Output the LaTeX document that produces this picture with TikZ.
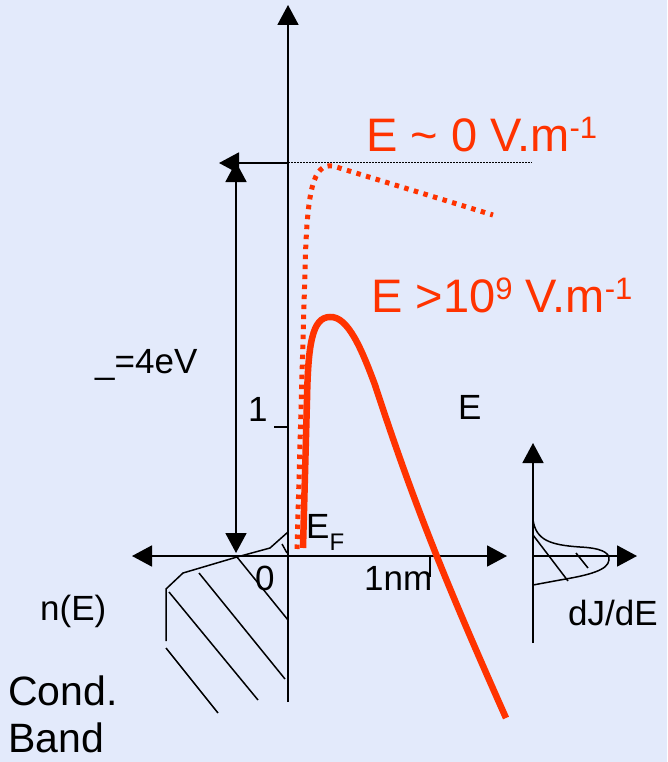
\documentclass[tikz,border=0pt]{standalone}
\usepackage{fontspec}
\setmainfont{Liberation Sans}
\usetikzlibrary{arrows.meta}
\definecolor{slideblue}{HTML}{E3EAFB}
\definecolor{fieldred}{HTML}{FF3300}
\newcommand{\upidx}[1]{\raisebox{13pt}{\fontsize{31}{31}\selectfont #1}}

\begin{document}
\begin{tikzpicture}[x=1pt,y=-1pt,
  tip/.style={-{Triangle[length=20pt,width=21pt]}},
  arrowaxis/.style={line width=1.8pt,tip},
  twoway/.style={line width=1.8pt,{Triangle[length=20pt,width=21pt]}-{Triangle[length=20pt,width=21pt]}},
  dosline/.style={line width=1.5pt},
  lbl/.style={inner sep=0pt,anchor=base west,font=\fontsize{35}{40}\selectfont},
  redlbl/.style={lbl,text=fieldred,font=\fontsize{47}{52}\selectfont},
  biglbl/.style={lbl,font=\fontsize{41}{48}\selectfont},
  field/.style={fieldred,line width=6.5pt},
  nofield/.style={fieldred,line width=5pt,dash pattern=on 4.5pt off 5.5pt}]
\fill[slideblue] (0,0) rectangle (667,762);
\useasboundingbox (0,0) rectangle (667,762);
% axes
\coordinate (O) at (288,556);
\coordinate (ytop) at (288,5);
\coordinate (ybot) at (288,702);
\coordinate (xleft) at (132,556);
\coordinate (xright) at (507,556);
\draw[arrowaxis] (ybot) -- (ytop);
\draw[twoway] (xleft) -- (xright);
% vacuum level and barrier height
\coordinate (vac) at (288,163);
\coordinate (vacleft) at (219,163);
\coordinate (vacend) at (532,163);
\coordinate (phitop) at (236,162);
\coordinate (phibot) at (236,553);
\draw[line width=1pt,dash pattern=on 1.5pt off 1.5pt] (vac) -- (vacend);
\draw[twoway] (phibot) -- (phitop);
\draw[arrowaxis] (vac) -- (vacleft);
% ticks
\draw[dosline] (274,427) -- (288,427);
\draw[dosline] (430,556) -- (430,577);
% density of states, conduction band
\draw[dosline] (288,532) -- (270,548) -- (237,557) -- (183,573) -- (166,589) -- (166,641);
\draw[dosline] (282,544) -- (287,553);
\draw[dosline] (237,557) -- (288,620);
\draw[dosline] (199,573) -- (285,679);
\draw[dosline] (169,592) -- (258,700);
\draw[dosline] (166,648) -- (218,713);
% potential barriers
\draw[nofield] (297,549) -- (305,270) .. controls (307,190) and (313,163) .. (333,166) -- (493,215);
\draw[field] (303,548) -- (307,400) .. controls (308,345) and (312,317) .. (330,317)
  .. controls (348,316) and (362,350) .. (375,385) .. controls (415,507) and (446,583) .. (506,718);
% emitted energy distribution
\coordinate (jO) at (533,556);
\coordinate (jtop) at (533,443);
\coordinate (jbot) at (533,643);
\coordinate (jright) at (637,556);
\draw[arrowaxis] (jbot) -- (jtop);
\draw[arrowaxis] (jO) -- (jright);
\draw[dosline] (533,520) .. controls (536,540) and (550,545) .. (580,547)
  .. controls (600,548) and (610,552) .. (609,560) .. controls (608,570) and (590,575) .. (560,580) -- (533,585);
\draw[dosline] (533,535) -- (568,581);
\draw[dosline] (576,553) -- (588,568);
% labels
\node[redlbl] (zerofield) at (366,152) {E \textasciitilde{} 0 V.m\upidx{-1}};
\node[redlbl] (highfield) at (371,312) {E >10\upidx{9} V.m\upidx{-1}};
\node[lbl] (phi) at (95,373) {\_=4eV};
\node[lbl] (one) at (248,421) {1};
\node[lbl] (elabel) at (458,419) {E};
\node[lbl] (ef) at (306,538) {E\raisebox{-12pt}{\fontsize{24}{24}\selectfont F}};
\node[lbl] (zero) at (255,590) {0};
\node[lbl] (nm) at (364,590) {1nm};
\node[lbl] (dos) at (40,620) {n(E)};
\node[lbl] (djde) at (568,625) {dJ/dE};
\node[biglbl] (cond) at (8,705) {Cond.};
\node[biglbl] (band) at (8,752) {Band};
\end{tikzpicture}
\end{document}
